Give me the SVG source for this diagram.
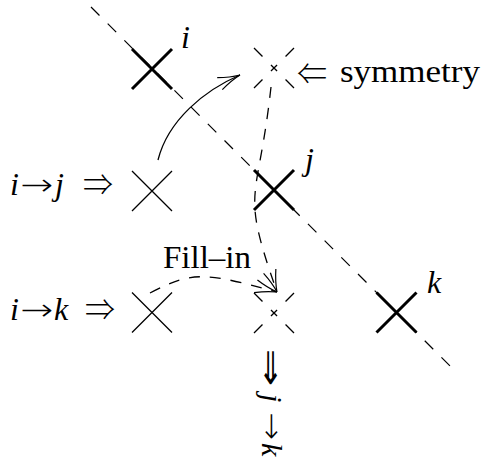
<svg xmlns="http://www.w3.org/2000/svg" width="485" height="464" viewBox="0 0 485 464">
<defs>
<style>
.thick{stroke:#000;stroke-width:3;fill:none}
.thin{stroke:#000;stroke-width:1.3;fill:none}
.dx{stroke:#000;stroke-width:1.3;fill:none;stroke-dasharray:12 12 8.6 12 12}
.diag{stroke:#000;stroke-width:1.2;fill:none;stroke-dasharray:12 11.6}
.curve{stroke:#000;stroke-width:1.3;fill:none}
.dcurve{stroke:#000;stroke-width:1.3;fill:none;stroke-dasharray:11 10}
text{font-family:"Liberation Serif","DejaVu Serif",serif;font-size:32px;fill:#000}
.it{font-style:italic}
.ar{font-family:"DejaVu Sans",sans-serif;font-size:30px;font-weight:200}
.dar{font-family:"Noto Sans CJK JP","DejaVu Sans",sans-serif;font-size:30px;font-weight:300}
</style>
<marker id="to" markerUnits="userSpaceOnUse" orient="auto" refX="0" refY="0" markerWidth="40" markerHeight="40" viewBox="-30 -20 40 40" overflow="visible">
<path d="M0 0 Q-10 -1.5 -22 -6.5 M0 0 Q-10 1.5 -22 6.5" fill="none" stroke="#000" stroke-width="1.2" stroke-dasharray="none"/>
</marker>
</defs>
<rect width="485" height="464" fill="#fff"/>

<g id="diagonal">
<line class="diag" x1="91" y1="7" x2="454" y2="370"/>
</g>

<g id="node-ii">
<path class="thick" d="M132 49 L172 89 M132 89 L172 49"/>
<text class="it" x="181" y="48">i</text>
</g>

<g id="node-jj">
<path class="thick" d="M254 170 L294 210 M254 210 L294 170"/>
<text class="it" x="305" y="170">j</text>
</g>

<g id="node-kk">
<path class="thick" d="M376.5 292.5 L416.5 332.5 M376.5 332.5 L416.5 292.5"/>
<text class="it" x="427" y="293">k</text>
</g>

<g id="node-ij">
<path class="thin" d="M132 171 L172 211 M132 211 L172 171"/>
<text class="it" x="10" y="195">i</text>
<text class="ar" x="20" y="195" textLength="33" lengthAdjust="spacingAndGlyphs">→</text>
<text class="it" x="55" y="195">j</text>
<text class="dar" x="83" y="195" textLength="30" lengthAdjust="spacingAndGlyphs">⇒</text>
</g>

<g id="node-ik">
<path class="thin" d="M132 292.5 L172 332.5 M132 332.5 L172 292.5"/>
<text class="it" x="10" y="320">i</text>
<text class="ar" x="20" y="320" textLength="33" lengthAdjust="spacingAndGlyphs">→</text>
<text class="it" x="54" y="320">k</text>
<text class="dar" x="85" y="320" textLength="30" lengthAdjust="spacingAndGlyphs">⇒</text>
</g>

<g id="node-sym">
<path class="dx" d="M254 48 L294 88 M254 88 L294 48"/>
<text class="dar" x="297" y="84" textLength="30" lengthAdjust="spacingAndGlyphs">⇐</text>
<text x="340" y="82" textLength="140" lengthAdjust="spacingAndGlyphs">symmetry</text>
</g>

<g id="node-fill">
<path class="dx" d="M254 293 L294 333 M254 333 L294 293"/>
<text class="dar" x="0" y="0" text-anchor="middle" transform="translate(271,384) scale(1,1.5)">⇓</text>
<g transform="translate(262,392) rotate(90)">
<text class="it" x="2" y="0" style="font-size:30px">j</text>
<text class="ar" x="20" y="0" textLength="28" lengthAdjust="spacingAndGlyphs">→</text>
<text class="it" x="51" y="0" style="font-size:30px">k</text>
</g>
</g>

<g id="connectors">
<path class="curve" d="M158 160 C168 120 205 90 240 75" marker-end="url(#to)"/>
<path class="dcurve" d="M271 87 C257.8 207 239.5 185 277 292" marker-end="url(#to)"/>
<path class="dcurve" d="M150 293 C194.2 269.6 207.4 273.4 277 292" marker-end="url(#to)"/>
<text x="163" y="268" textLength="88" lengthAdjust="spacingAndGlyphs">Fill–in</text>
</g>
</svg>
